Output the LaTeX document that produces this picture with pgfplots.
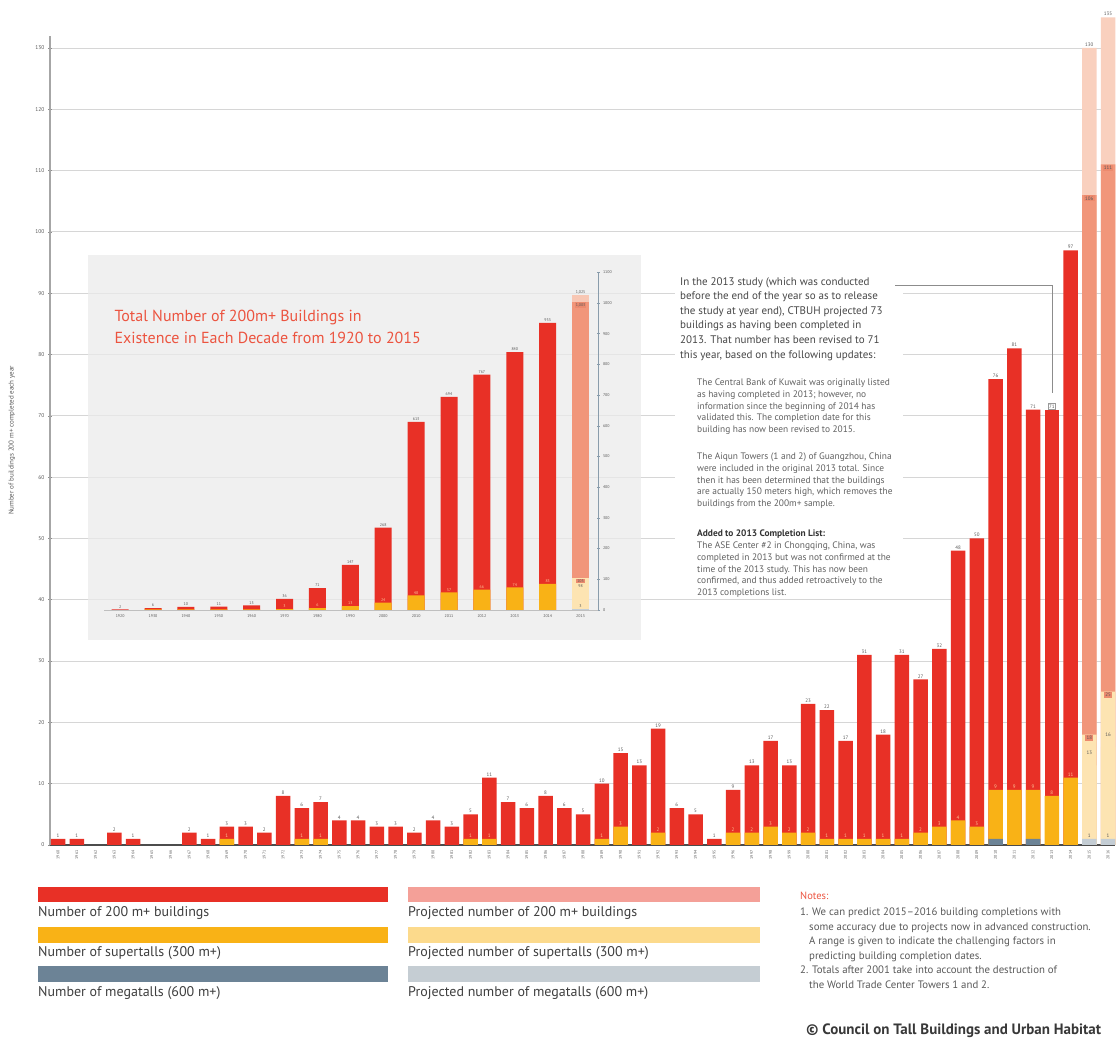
\documentclass[border=0pt]{standalone}
\usepackage{pgfplots}
\pgfplotsset{compat=1.18}
\usepackage{fontspec}
\setmainfont{PT Sans}

\definecolor{red200}{RGB}{232,48,38}
\definecolor{super}{RGB}{249,178,22}
\definecolor{mega}{RGB}{108,131,150}
\definecolor{projred}{RGB}{241,150,122}
\definecolor{projredlt}{RGB}{249,208,190}
\definecolor{projsuper}{RGB}{253,228,178}
\definecolor{projmega}{RGB}{196,205,212}
\definecolor{legprojred}{RGB}{244,160,152}
\definecolor{legprojsuper}{RGB}{252,218,140}
\definecolor{legprojmega}{RGB}{197,205,211}
\definecolor{labbox}{RGB}{236,138,110}
\definecolor{txt}{RGB}{88,88,88}
\definecolor{legtxt}{RGB}{62,62,62}
\definecolor{gridc}{RGB}{214,214,214}
\definecolor{titlered}{RGB}{236,84,64}
\definecolor{paletxt}{RGB}{252,196,150}

\pgfplotsset{
  mainbar/.style={ybar, bar width=14.5pt, bar shift=0pt, draw=none},
  insetbar/.style={ybar, bar width=17pt, bar shift=0pt, draw=none},
  lbl/.style={nodes near coords, every node near coord/.append style={font=\fontsize{5}{5}\selectfont, text=#1, inner sep=1.2pt, anchor=south}},
  ilbl/.style={nodes near coords, every node near coord/.append style={font=\fontsize{4}{4}\selectfont, text=#1, inner sep=1pt, anchor=south}},
}

\begin{document}
\begin{tikzpicture}
\path[use as bounding box] (0pt,0pt) rectangle (1120pt,1044pt);

% ---- main chart: completions per year
\begin{axis}[
  at={(50pt,199pt)}, anchor=south west,
  scale only axis, width=1065pt, height=809.3pt,
  xmin=1959.57, xmax=2016.37, ymin=0, ymax=132,
  axis x line*=bottom, axis y line*=left,
  x axis line style={draw=black!70, line width=1.3pt},
  y axis line style={draw=black!35, line width=1.2pt},
  xtick={1960,...,2016}, ytick={0,10,...,130},
  xticklabels={1960,1961,1962,1963,1964,1965,1966,1967,1968,1969,
    1970,1971,1972,1973,1974,1975,1976,1977,1978,1979,
    1980,1981,1982,1983,1984,1985,1986,1987,1988,1989,
    1990,1991,1992,1993,1994,1995,1996,1997,1998,1999,
    2000,2001,2002,2003,2004,2005,2006,2007,2008,2009,
    2010,2011,2012,2013,2014,2015,2016},
  xticklabel style={rotate=90, anchor=east, font=\fontsize{4}{4}\selectfont, text=txt},
  yticklabel style={font=\fontsize{5.5}{6}\selectfont, text=txt},
  xtick style={draw=none},
  ytick style={draw=black!45, line width=0.6pt},
  major tick length=4pt, tick align=center,
  ymajorgrids, grid style={gridc, line width=0.9pt},
  every axis y label/.style={at={(axis description cs:0,0.5)}, xshift=-38pt, rotate=90, anchor=center},
  ylabel={Number of buildings 200 m+ completed each year},
  ylabel style={font=\fontsize{7}{8}\selectfont, text=txt},
  clip=false,
  /pgf/number format/assume math mode=true,
]
% projected range 2015-2016
\addplot[mainbar, fill=projredlt, lbl=txt] coordinates {(2015,130) (2016,135)};
\addplot[mainbar, fill=projred, lbl=txt, every node near coord/.append style={anchor=north, fill=labbox}] coordinates {(2015,106) (2016,111)};
\addplot[mainbar, fill=projsuper, lbl=txt, every node near coord/.append style={anchor=north, fill=labbox}] coordinates {(2015,18) (2016,25)};
\addplot[mainbar, fill=projsuper, lbl=txt, every node near coord/.append style={yshift=9pt}] coordinates {(2015,13) (2016,16)};
\addplot[mainbar, fill=projmega, lbl=txt] coordinates {(2015,1) (2016,1)};
% completed 200 m+
\addplot[mainbar, fill=red200, lbl=txt] coordinates {
(1960,1) (1961,1) (1963,2) (1964,1) (1967,2) (1968,1) (1969,3) (1970,3) (1971,2)
(1972,8) (1973,6) (1974,7) (1975,4) (1976,4) (1977,3) (1978,3) (1979,2) (1980,4)
(1981,3) (1982,5) (1983,11) (1984,7) (1985,6) (1986,8) (1987,6) (1988,5) (1989,10)
(1990,15) (1991,13) (1992,19) (1993,6) (1994,5) (1995,1) (1996,9) (1997,13) (1998,17)
(1999,13) (2000,23) (2001,22) (2002,17) (2003,31) (2004,18) (2005,31) (2006,27)
(2007,32) (2008,48) (2009,50) (2010,76) (2011,81) (2012,71) (2014,97)};
\addplot[mainbar, fill=red200, lbl=txt, every node near coord/.append style={draw=black!40, line width=0.5pt}] coordinates {(2013,71)};
% supertalls
\addplot[mainbar, fill=super, lbl=paletxt] coordinates {
(1969,1) (1973,1) (1974,1) (1982,1) (1983,1) (1989,1) (1990,3) (1992,2) (1996,2)
(1997,2) (1998,3) (1999,2) (2000,2) (2001,1) (2002,1) (2003,1) (2004,1) (2005,1)
(2006,2) (2007,3) (2008,4) (2009,3) (2010,9) (2011,9) (2012,9) (2013,8) (2014,11)};
% megatalls
\addplot[mainbar, fill=mega] coordinates {(2010,1) (2012,1)};
\end{axis}

% ---- inset panel
\fill[black!8, opacity=0.75] (88pt,404pt) rectangle (641pt,789pt);
\node[anchor=base west, font=\fontsize{16}{18}\selectfont, text=titlered] at (111pt,722pt) {Total Number of 200m+ Buildings in};
\node[anchor=base west, font=\fontsize{16}{18}\selectfont, text=titlered] at (111pt,700pt) {Existence in Each Decade from 1920 to 2015};

\begin{axis}[
  at={(104pt,434pt)}, anchor=south west,
  scale only axis, width=494pt, height=337.7pt,
  xmin=-0.49, xmax=14.53, ymin=0, ymax=1100,
  axis x line*=bottom, axis y line*=right,
  x axis line style={draw=black!25, line width=0.8pt},
  y axis line style={draw=mega!80, line width=1pt},
  xtick={0,...,14},
  xticklabels={1920,1930,1940,1950,1960,1970,1980,1990,2000,2010,2011,2012,2013,2014,2015},
  xticklabel style={font=\fontsize{4}{4}\selectfont, text=txt},
  xtick style={draw=none},
  ytick={0,100,...,1100},
  yticklabels={0,100,200,300,400,500,600,700,800,900,1000,1100},
  yticklabel style={font=\fontsize{4}{4}\selectfont, text=txt},
  ytick style={draw=mega!80, line width=0.5pt},
  major tick length=3pt, tick align=center,
  clip=false,
  /pgf/number format/assume math mode=true,
]
\addplot[insetbar, fill=projredlt!85!projred, ilbl=txt] coordinates {(14,1025)};
\addplot[insetbar, fill=projred, ilbl=txt, every node near coord/.append style={anchor=north, fill=labbox}] coordinates {(14,1003)};
\addplot[insetbar, fill=projsuper, ilbl=txt, every node near coord/.append style={anchor=north, fill=labbox}] coordinates {(14,103)};
\addplot[insetbar, fill=projsuper, ilbl=txt, every node near coord/.append style={yshift=-9pt}] coordinates {(14,98)};
\addplot[insetbar, fill=red200, ilbl=txt] coordinates {
(0,2) (1,6) (2,10) (3,11) (4,15) (5,36) (6,71) (7,147) (8,268) (9,613) (10,694) (11,767) (12,840) (13,935)};
\addplot[insetbar, fill=super] coordinates {(1,2) (2,2) (3,2) (4,2)};
\addplot[insetbar, fill=super, ilbl=paletxt] coordinates {
(5,3) (6,6) (7,13) (8,24) (9,48) (10,57) (11,66) (12,74) (13,85)};
\addplot[insetbar, fill=projmega, ilbl=txt] coordinates {(14,3)};
\end{axis}

% ---- note on the 2013 count
\fill[white] (675pt,446pt) rectangle (903pt,768pt);
\draw[black!45, line width=0.7pt] (895pt,759pt) -- (1052pt,759pt) -- (1052pt,651pt);
\node[anchor=north west, align=left, inner sep=0pt, text=black!72, font=\fontsize{11}{14.6}\selectfont] at (680pt,767pt) {%
In the 2013 study (which was conducted\\
before the end of the year so as to release\\
the study at year end), CTBUH projected 73\\
buildings as having been completed in\\
2013. That number has been revised to 71\\
this year, based on the following updates:};
\node[anchor=north west, align=left, inner sep=0pt, text=black!62, font=\fontsize{9.4}{11.7}\selectfont] at (697pt,665pt) {%
The Central Bank of Kuwait was originally listed\\
as having completed in 2013; however, no\\
information since the beginning of 2014 has\\
validated this. The completion date for this\\
building has now been revised to 2015.};
\node[anchor=north west, align=left, inner sep=0pt, text=black!62, font=\fontsize{9.4}{11.7}\selectfont] at (697pt,591pt) {%
The Aiqun Towers (1 and 2) of Guangzhou, China\\
were included in the original 2013 total. Since\\
then it has been determined that the buildings\\
are actually 150 meters high, which removes the\\
buildings from the 200m+ sample.};
\node[anchor=north west, align=left, inner sep=0pt, text=black!62, font=\fontsize{9.4}{11.7}\selectfont] at (697pt,514pt) {%
{\bfseries\color{black!80}Added to 2013 Completion List:}\\
The ASE Center \#2 in Chongqing, China, was\\
completed in 2013 but was not confirmed at the\\
time of the 2013 study. This has now been\\
confirmed, and thus added retroactively to the\\
2013 completions list.};

% ---- key
\fill[red200] (38pt,142pt) rectangle (388pt,157pt);
\fill[super] (38pt,101pt) rectangle (388pt,117pt);
\fill[mega] (38pt,62pt) rectangle (388pt,78pt);
\fill[legprojred] (408pt,142pt) rectangle (760pt,157pt);
\fill[legprojsuper] (408pt,101pt) rectangle (760pt,117pt);
\fill[legprojmega] (408pt,62pt) rectangle (760pt,78pt);
\begin{scope}[every node/.style={anchor=base west, inner sep=0pt, text=legtxt, font=\fontsize{14}{15}\selectfont}]
\node at (38pt,127pt) {Number of 200 m+ buildings};
\node at (38pt,87pt) {Number of supertalls (300 m+)};
\node at (38pt,47pt) {Number of megatalls (600 m+)};
\node at (408pt,127pt) {Projected number of 200 m+ buildings};
\node at (408pt,87pt) {Projected number of supertalls (300 m+)};
\node at (408pt,47pt) {Projected number of megatalls (600 m+)};
\end{scope}

% ---- notes and credit
\node[anchor=base west, inner sep=0pt, text=titlered, font=\fontsize{10.5}{11}\selectfont] at (800pt,144pt) {Notes:};
\node[anchor=north west, align=left, inner sep=0pt, text=black!65, font=\fontsize{10.8}{14.5}\selectfont] at (800pt,136pt) {%
1. We can predict 2015–2016 building completions with\\
\hspace*{9pt}some accuracy due to projects now in advanced construction.\\
\hspace*{9pt}A range is given to indicate the challenging factors in\\
\hspace*{9pt}predicting building completion dates.\\
2. Totals after 2001 take into account the destruction of\\
\hspace*{9pt}the World Trade Center Towers 1 and 2.};
\node[anchor=base west, inner sep=0pt, text=black!78, font=\bfseries\fontsize{15}{17}\selectfont] at (806pt,9pt) {© Council on Tall Buildings and Urban Habitat};
\end{tikzpicture}
\end{document}
